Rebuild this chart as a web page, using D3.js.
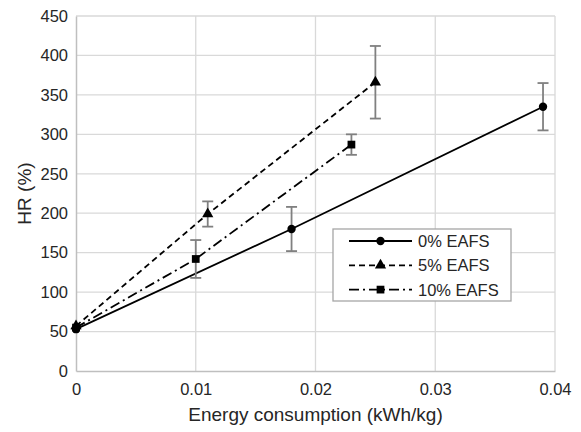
<!DOCTYPE html>
<html>
<head>
<meta charset="utf-8">
<script src="https://cdn.jsdelivr.net/npm/d3@7"></script>
<style>
  body { margin: 0; background: #fff; }
  svg { font-family: "Liberation Sans", Arial, sans-serif; }
</style>
</head>
<body>
<svg id="chart" width="581" height="432"></svg>
<script>
// series values
const seriesNames = ['0% EAFS', '5% EAFS', '10% EAFS'];
const energy0 = [0, 0.018, 0.039];
const hr0 = [53, 180, 335];
const err0 = [0, 28, 30];
const energy5 = [0, 0.011, 0.025];
const hr5 = [57, 199, 366];
const err5 = [0, 16, 46];
const energy10 = [0, 0.010, 0.023];
const hr10 = [55, 142, 287];
const err10 = [0, 24, 13];
const xTicks = [0, 0.01, 0.02, 0.03, 0.04];
const yTicks = [0, 50, 100, 150, 200, 250, 300, 350, 400, 450];

const svg = d3.select('#chart');
const margin = { left: 76, right: 26, top: 16, bottom: 61 };
const W = 581, H = 432;
const tickFont = 16.5, titleFont = 19;

const x = d3.scaleLinear().domain([0, 0.04]).range([margin.left, W - margin.right]);
const y = d3.scaleLinear().domain([0, 450]).range([H - margin.bottom, margin.top]);

// gridlines
svg.append('g').selectAll('line').data(yTicks.slice(1)).join('line')
    .attr('x1', x(0)).attr('x2', x(0.04))
    .attr('y1', d => y(d)).attr('y2', d => y(d))
    .attr('stroke', '#d9d9d9').attr('stroke-width', 1.3);
svg.append('g').selectAll('line').data(xTicks.slice(1)).join('line')
    .attr('x1', d => x(d)).attr('x2', d => x(d))
    .attr('y1', y(0)).attr('y2', y(450))
    .attr('stroke', '#d9d9d9').attr('stroke-width', 1.3);

// axes
const xAxis = svg.append('g').attr('transform', `translate(0,${y(0)})`)
    .call(d3.axisBottom(x).tickValues(xTicks).tickSize(0).tickPadding(12)
        .tickFormat(d => d === 0 ? '0' : d3.format('.2f')(d)));
const yAxis = svg.append('g').attr('transform', `translate(${x(0)},0)`)
    .call(d3.axisLeft(y).tickValues(yTicks).tickSize(0).tickPadding(8));
[xAxis, yAxis].forEach(a => {
    a.select('.domain').attr('stroke', '#bfbfbf').attr('stroke-width', 1.5);
    a.selectAll('text').attr('font-size', tickFont).attr('fill', '#262626')
        .attr('font-family', '"Liberation Sans", Arial, sans-serif');
});

// axis titles
svg.append('text').attr('x', (x(0) + x(0.04)) / 2).attr('y', 421)
    .attr('text-anchor', 'middle').attr('font-size', titleFont).attr('fill', '#262626')
    .text('Energy consumption (kWh/kg)');
svg.append('text').attr('transform', `translate(31,${(y(0) + y(450)) / 2}) rotate(-90)`)
    .attr('text-anchor', 'middle').attr('font-size', titleFont).attr('fill', '#262626')
    .text('HR (%)');

const series = [
    { name: seriesNames[0], xs: energy0, ys: hr0, es: err0, dash: null, marker: d3.symbolCircle, size: 55 },
    { name: seriesNames[1], xs: energy5, ys: hr5, es: err5, dash: '6,4', marker: d3.symbolTriangle, size: 55 },
    { name: seriesNames[2], xs: energy10, ys: hr10, es: err10, dash: '10,4,2,4', marker: d3.symbolSquare, size: 60 }
];

const line = d3.line().x(d => x(d[0])).y(d => y(d[1]));

series.forEach(s => {
    const pts = s.xs.map((v, i) => [v, s.ys[i], s.es[i]]);
    svg.append('path').datum(pts)
        .attr('d', line).attr('fill', 'none').attr('stroke', '#000')
        .attr('stroke-width', 1.8).attr('stroke-dasharray', s.dash);
    // error bars
    const eb = svg.append('g').attr('stroke', '#808080').attr('stroke-width', 1.8);
    pts.filter(p => p[2] > 0).forEach(p => {
        eb.append('line').attr('x1', x(p[0])).attr('x2', x(p[0]))
            .attr('y1', y(p[1] + p[2])).attr('y2', y(p[1] - p[2]));
        [p[1] + p[2], p[1] - p[2]].forEach(v => {
            eb.append('line').attr('x1', x(p[0]) - 5.5).attr('x2', x(p[0]) + 5.5)
                .attr('y1', y(v)).attr('y2', y(v));
        });
    });
    svg.append('g').selectAll('path').data(pts).join('path')
        .attr('d', d3.symbol().type(s.marker).size(s.size))
        .attr('transform', d => `translate(${x(d[0])},${y(d[1])})`)
        .attr('fill', '#000');
});

// legend
const lg = svg.append('g').attr('transform', 'translate(333,229)');
lg.append('rect').attr('width', 178).attr('height', 72)
    .attr('fill', '#fff').attr('stroke', '#a6a6a6').attr('stroke-width', 1.3);
series.forEach((s, i) => {
    const yy = 12 + i * 24.3;
    lg.append('line').attr('x1', 16).attr('x2', 79).attr('y1', yy).attr('y2', yy)
        .attr('stroke', '#000').attr('stroke-width', 1.8).attr('stroke-dasharray', s.dash);
    lg.append('path').attr('d', d3.symbol().type(s.marker).size(s.size))
        .attr('transform', `translate(47.5,${yy})`).attr('fill', '#000');
    lg.append('text').attr('x', 85).attr('y', yy + 6).attr('font-size', tickFont)
        .attr('fill', '#262626').text(s.name);
});
</script>
</body>
</html>
